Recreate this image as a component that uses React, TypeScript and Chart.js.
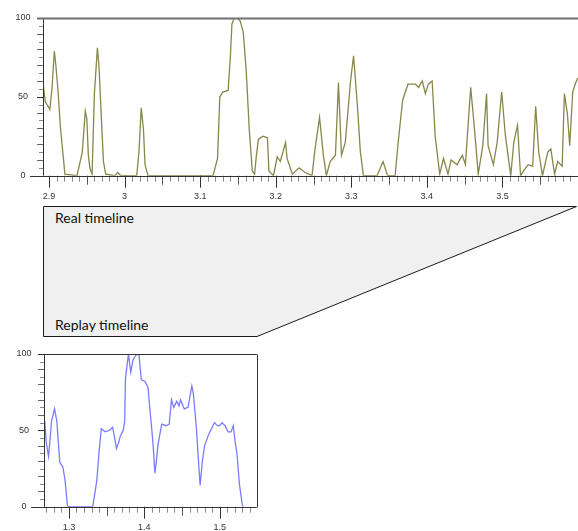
import React, { useEffect, useRef } from 'react';
import { Chart, registerables } from 'chart.js';
Chart.register(...registerables);

// ---- Data: real timeline (top) ----
const realX = [
  2.892, 2.895, 2.901, 2.904, 2.907, 2.909, 2.912, 2.915, 2.919, 2.921,
  2.937, 2.944, 2.948, 2.950, 2.952, 2.954, 2.957, 2.960, 2.964, 2.966,
  2.969, 2.972, 2.975, 2.987, 2.991, 2.995, 3.016, 3.019, 3.022, 3.025,
  3.027, 3.031, 3.117, 3.123, 3.126, 3.130, 3.137, 3.140, 3.142, 3.145,
  3.149, 3.153, 3.157, 3.161, 3.165, 3.169, 3.172, 3.174, 3.177, 3.183,
  3.189, 3.191, 3.197, 3.202, 3.206, 3.213, 3.215, 3.222, 3.231, 3.239,
  3.248, 3.252, 3.258, 3.263, 3.267, 3.272, 3.279, 3.283, 3.287, 3.292,
  3.299, 3.303, 3.308, 3.312, 3.316, 3.334, 3.342, 3.348, 3.358, 3.362,
  3.368, 3.375, 3.385, 3.389, 3.394, 3.398, 3.402, 3.407, 3.411, 3.417,
  3.422, 3.428, 3.432, 3.440, 3.447, 3.451, 3.458, 3.462, 3.468, 3.474,
  3.479, 3.481, 3.488, 3.493, 3.499, 3.504, 3.511, 3.515, 3.520, 3.524,
  3.528, 3.534, 3.540, 3.544, 3.548, 3.553, 3.560, 3.564, 3.569, 3.573,
  3.579, 3.582, 3.586, 3.589, 3.593, 3.597, 3.600,
];
const realY = [
  59, 47, 42, 56, 79, 70, 53, 31, 11, 1,
  0, 15, 41, 36, 13, 5, 1, 52, 81, 70,
  39, 9, 1, 0, 2, 0, 0, 15, 43, 29,
  7, 0, 0, 11, 50, 53, 54, 76, 96, 100,
  100, 98, 91, 66, 29, 3, 1, 11, 23, 25,
  24, 3, 0, 12, 9, 21, 11, 1, 5, 2,
  0, 17, 37, 13, 0, 9, 13, 59, 13, 21,
  60, 76, 45, 15, 0, 0, 9, 0, 0, 21,
  48, 58, 58, 56, 60, 52, 58, 60, 25, 1,
  11, 1, 10, 7, 13, 7, 56, 35, 1, 19,
  52, 19, 7, 21, 53, 25, 0, 21, 32, 0,
  3, 7, 6, 44, 15, 0, 15, 17, 1, 9,
  6, 52, 39, 19, 53, 59, 62,
];

// ---- Data: replay timeline (bottom) ----
const replayX = [
  1.268, 1.270, 1.273, 1.275, 1.277, 1.281, 1.284, 1.286, 1.288, 1.292,
  1.295, 1.298, 1.299, 1.331, 1.332, 1.337, 1.340, 1.343, 1.348, 1.354,
  1.358, 1.361, 1.363, 1.366, 1.368, 1.372, 1.374, 1.375, 1.379, 1.382,
  1.385, 1.390, 1.393, 1.396, 1.401, 1.405, 1.407, 1.410, 1.412, 1.414,
  1.416, 1.418, 1.423, 1.429, 1.433, 1.436, 1.439, 1.443, 1.446, 1.448,
  1.453, 1.458, 1.463, 1.465, 1.469, 1.471, 1.474, 1.477, 1.480, 1.485,
  1.489, 1.493, 1.497, 1.500, 1.503, 1.507, 1.511, 1.515, 1.518, 1.520,
  1.523, 1.526, 1.530, 1.531,
];
const replayY = [
  56, 42, 33, 44, 56, 64, 56, 42, 29, 26,
  17, 1, 0, 0, 1, 17, 36, 51, 49, 50,
  52, 44, 38, 42, 46, 50, 56, 84, 100, 88,
  96, 100, 99, 83, 82, 78, 66, 50, 38, 22,
  30, 40, 54, 53, 54, 70, 65, 69, 66, 70,
  64, 65, 79, 74, 52, 36, 14, 30, 40, 47,
  51, 55, 53, 53, 55, 53, 49, 49, 53, 44,
  34, 15, 1, 0,
];

// ---- Tick labels ----
const realTicks = [2.9, 3.0, 3.1, 3.2, 3.3, 3.4, 3.5];
const replayTicks = [1.3, 1.4, 1.5];
const yTicks = [0, 50, 100];
const realLabel = 'Real timeline';
const replayLabel = 'Replay timeline';

const TICK_FONT = "'Liberation Sans', Arial, sans-serif";

const decorPlugin = {
  id: 'decor',
  afterDraw(chart: any) {
    const o = chart.options.plugins.decor;
    const { ctx, chartArea: ca } = chart;
    const x = chart.scales.x;
    const y = chart.scales.y;
    ctx.save();
    ctx.lineWidth = 1;
    // x minor / major ticks every 0.01
    const s = Math.ceil(x.min * 100 - 1e-6);
    const e = Math.floor(x.max * 100 + 1e-6);
    for (let i = s; i <= e; i++) {
      const px = Math.round(x.getPixelForValue(i / 100)) + 0.5;
      let len = 6, col = '#8a8a8a';
      if (i % 10 === 0) { len = 12; col = '#333'; }
      else if (i % 5 === 0) { len = 9; col = '#555'; }
      ctx.strokeStyle = col;
      ctx.beginPath();
      ctx.moveTo(px, ca.bottom);
      ctx.lineTo(px, ca.bottom + len);
      ctx.stroke();
    }
    // y ticks every 5
    for (let v = 5; v <= 100; v += 5) {
      const py = Math.round(y.getPixelForValue(v)) + 0.5;
      let len = 4, col = '#8a8a8a';
      if (v % 50 === 0) { len = 6; col = '#333'; }
      else if (v % 10 === 0) { len = 6; col = '#666'; }
      ctx.strokeStyle = col;
      ctx.beginPath();
      ctx.moveTo(ca.left - len, py);
      ctx.lineTo(ca.left, py);
      ctx.stroke();
    }
    // axis lines
    const by = Math.round(ca.bottom) + 0.5;
    const lx = Math.round(ca.left) + 0.5;
    ctx.strokeStyle = '#333';
    ctx.beginPath();
    ctx.moveTo(ca.left - 13, by);
    ctx.lineTo(ca.right, by);
    ctx.stroke();
    ctx.beginPath();
    ctx.moveTo(lx, ca.top);
    ctx.lineTo(lx, ca.bottom);
    ctx.stroke();
    // top frame
    const ty = Math.round(ca.top) + 0.5;
    ctx.strokeStyle = o.frameColor;
    ctx.lineWidth = o.frameWidth;
    ctx.beginPath();
    ctx.moveTo(ca.left - 6, ty);
    ctx.lineTo(ca.right, ty);
    ctx.stroke();
    if (o.rightFrame) {
      const rx = Math.round(ca.right) + 0.5;
      ctx.beginPath();
      ctx.moveTo(rx, ty);
      ctx.lineTo(rx, by);
      ctx.stroke();
    }
    ctx.restore();
  },
};

function makeConfig(
  xs: number[], ys: number[], ticks: number[], min: number, max: number,
  color: string, layout: any, frame: any
): any {
  return {
    type: 'line',
    data: {
      datasets: [{
        data: xs.map((v, i) => ({ x: v, y: ys[i] })),
        borderColor: color,
        borderWidth: 1.3,
        pointRadius: 0,
        tension: 0,
        fill: false,
      }],
    },
    options: {
      responsive: false,
      animation: false,
      events: [],
      layout: { padding: layout.padding },
      plugins: { legend: { display: false }, tooltip: { enabled: false }, decor: frame },
      scales: {
        x: {
          type: 'linear', min, max,
          grid: { display: false, drawTicks: false },
          border: { display: false },
          afterBuildTicks: (sc: any) => { sc.ticks = ticks.map((v) => ({ value: v })); },
          afterFit: (sc: any) => { sc.height = layout.xHeight; },
          ticks: {
            autoSkip: false, maxRotation: 0, padding: layout.xPad,
            color: '#333', font: { family: TICK_FONT, size: 9 },
            callback: (v: any) => String(+Number(v).toFixed(1)),
          },
        },
        y: {
          type: 'linear', min: 0, max: 100,
          grid: { display: false, drawTicks: false },
          border: { display: false },
          afterBuildTicks: (sc: any) => { sc.ticks = yTicks.map((v) => ({ value: v })); },
          afterFit: (sc: any) => { sc.width = layout.yWidth; },
          ticks: {
            padding: 12.5, crossAlign: 'center',
            color: '#333', font: { family: TICK_FONT, size: 9 },
          },
        },
      },
    },
    plugins: [decorPlugin],
  };
}

function ChartCanvas({ cfg, style, w, h }: any) {
  const ref = useRef<HTMLCanvasElement | null>(null);
  useEffect(() => {
    if (!ref.current) return;
    const c = new Chart(ref.current, cfg);
    return () => c.destroy();
  }, []);
  return <canvas ref={ref} width={w} height={h} style={{ position: 'absolute', ...style, width: w, height: h }} />;
}

export default function App() {
  const topCfg = makeConfig(realX, realY, realTicks, 2.892, 3.6, '#87874a',
    { padding: { top: 10, left: 0, right: 0, bottom: 0 }, xHeight: 28.3, yWidth: 43, xPad: 15 },
    { frameColor: '#707070', frameWidth: 2, rightFrame: false });
  const botCfg = makeConfig(replayX, replayY, replayTicks, 1.267, 1.549, '#7b7bff',
    { padding: { top: 5.7, left: 0, right: 13.3, bottom: 0 }, xHeight: 24.3, yWidth: 44, xPad: 15.5 },
    { frameColor: '#333', frameWidth: 1, rightFrame: true });
  return (
    <div style={{ position: 'absolute', left: 0, top: 0, width: 578, height: 531, background: '#fff', overflow: 'hidden' }}>
      <svg width={578} height={531} style={{ position: 'absolute', left: 0, top: 0 }}>
        <polygon points="43.5,206.5 576.5,206.5 257,336.5 43.5,336.5" fill="#f0f0f0" stroke="#1a1a1a" strokeWidth={1} />
        <text x={55} y={223} fontFamily="Lato, 'Open Sans', sans-serif" fontSize={14} fill="#111">{realLabel}</text>
        <text x={55} y={330} fontFamily="Lato, 'Open Sans', sans-serif" fontSize={14} fill="#111">{replayLabel}</text>
      </svg>
      <ChartCanvas cfg={topCfg} w={578} h={204} style={{ left: 0, top: 0 }} />
      <ChartCanvas cfg={botCfg} w={270} h={195} style={{ left: 0, top: 336 }} />
    </div>
  );
}
